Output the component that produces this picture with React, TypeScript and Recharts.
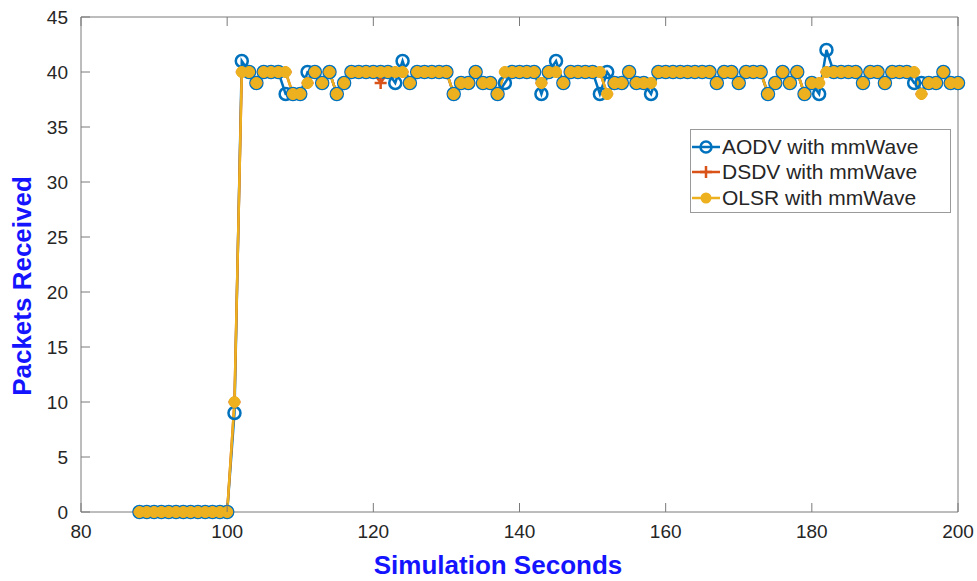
import { LineChart, Line, XAxis, YAxis } from 'recharts'

// seconds on the x axis
const seconds = [
  88, 89, 90, 91, 92, 93, 94, 95, 96, 97, 98, 99, 100, 101, 102, 103, 104, 105, 106, 107,
  108, 109, 110, 111, 112, 113, 114, 115, 116, 117, 118, 119, 120, 121, 122, 123, 124, 125, 126, 127,
  128, 129, 130, 131, 132, 133, 134, 135, 136, 137, 138, 139, 140, 141, 142, 143, 144, 145, 146, 147,
  148, 149, 150, 151, 152, 153, 154, 155, 156, 157, 158, 159, 160, 161, 162, 163, 164, 165, 166, 167,
  168, 169, 170, 171, 172, 173, 174, 175, 176, 177, 178, 179, 180, 181, 182, 183, 184, 185, 186, 187,
  188, 189, 190, 191, 192, 193, 194, 195, 196, 197, 198, 199, 200,
]

const aodv = [
  0, 0, 0, 0, 0, 0, 0, 0, 0, 0, 0, 0, 0, 9, 41, 40, 39, 40, 40, 40,
  38, 38, 38, 40, 40, 39, 40, 38, 39, 40, 40, 40, 40, 40, 40, 39, 41, 39, 40, 40,
  40, 40, 40, 38, 39, 39, 40, 39, 39, 38, 39, 40, 40, 40, 40, 38, 40, 41, 39, 40,
  40, 40, 40, 38, 40, 39, 39, 40, 39, 39, 38, 40, 40, 40, 40, 40, 40, 40, 40, 39,
  40, 40, 39, 40, 40, 40, 38, 39, 40, 39, 40, 38, 39, 38, 42, 40, 40, 40, 40, 39,
  40, 40, 39, 40, 40, 40, 39, 39, 39, 39, 40, 39, 39,
]

const dsdv = [
  0, 0, 0, 0, 0, 0, 0, 0, 0, 0, 0, 0, 0, 10, 40, 40, 39, 40, 40, 40,
  40, 38, 38, 39, 40, 39, 40, 38, 39, 40, 40, 40, 40, 39, 40, 40, 40, 39, 40, 40,
  40, 40, 40, 38, 39, 39, 40, 39, 39, 38, 40, 40, 40, 40, 40, 39, 40, 40, 39, 40,
  40, 40, 40, 40, 38, 39, 39, 40, 39, 39, 39, 40, 40, 40, 40, 40, 40, 40, 40, 39,
  40, 40, 39, 40, 40, 40, 38, 39, 40, 39, 40, 38, 39, 39, 40, 40, 40, 40, 40, 39,
  40, 40, 39, 40, 40, 40, 40, 38, 39, 39, 40, 39, 39,
]

const olsr = [
  0, 0, 0, 0, 0, 0, 0, 0, 0, 0, 0, 0, 0, 10, 40, 40, 39, 40, 40, 40,
  40, 38, 38, 39, 40, 39, 40, 38, 39, 40, 40, 40, 40, 40, 40, 40, 40, 39, 40, 40,
  40, 40, 40, 38, 39, 39, 40, 39, 39, 38, 40, 40, 40, 40, 40, 39, 40, 40, 39, 40,
  40, 40, 40, 40, 38, 39, 39, 40, 39, 39, 39, 40, 40, 40, 40, 40, 40, 40, 40, 39,
  40, 40, 39, 40, 40, 40, 38, 39, 40, 39, 40, 38, 39, 39, 40, 40, 40, 40, 40, 39,
  40, 40, 39, 40, 40, 40, 40, 38, 39, 39, 40, 39, 39,
]

const xTicks = [80, 100, 120, 140, 160, 180, 200]
const yTicks = [0, 5, 10, 15, 20, 25, 30, 35, 40, 45]

const data = seconds.map((s, i) => ({ s, aodv: aodv[i], dsdv: dsdv[i], olsr: olsr[i] }))

const BLUE = '#0072BD'
const RED = '#D95319'
const YELLOW = '#EDB120'
const AXIS = '#7a7a7a'
const TXT = '#262626'
const LABEL = '#1414ff'
const FONT = '"Liberation Sans", Arial, Helvetica, sans-serif'
const TICK = 9

const BottomTick = ({ x, y, payload }: any) => (
  <g>
    <line x1={x} x2={x} y1={y} y2={y - TICK} stroke={AXIS} />
    <text x={x} y={y + 26} textAnchor="middle" fill={TXT} fontSize={19} fontFamily={FONT}>
      {payload.value}
    </text>
  </g>
)

const TopTick = ({ x, y }: any) => <line x1={x} x2={x} y1={y} y2={y + TICK} stroke={AXIS} />

const LeftTick = ({ x, y, payload }: any) => (
  <g>
    <line x1={x} x2={x + TICK} y1={y} y2={y} stroke={AXIS} />
    <text x={x - 13} y={y + 7} textAnchor="end" fill={TXT} fontSize={19} fontFamily={FONT}>
      {payload.value}
    </text>
  </g>
)

const RightTick = ({ x, y }: any) => <line x1={x} x2={x - TICK} y1={y} y2={y} stroke={AXIS} />

const XLabel = () => (
  <text x={498} y={574} textAnchor="middle" fill={LABEL} fontSize={26} fontWeight="bold" fontFamily={FONT}>
    Simulation Seconds
  </text>
)

const YLabel = () => (
  <text
    x={0}
    y={0}
    transform="translate(31, 286) rotate(-90)"
    textAnchor="middle"
    fill={LABEL}
    fontSize={26}
    fontWeight="bold"
    fontFamily={FONT}
  >
    Packets Received
  </text>
)

const PlusDot = (props: any) => {
  const { cx, cy, key } = props
  return (
    <path
      key={key}
      d={`M${cx - 6},${cy}H${cx + 6}M${cx},${cy - 6}V${cy + 6}`}
      stroke={RED}
      strokeWidth={2.5}
      fill="none"
    />
  )
}

const legendItems = [
  { name: 'AODV with mmWave', color: BLUE, kind: 'circle' },
  { name: 'DSDV with mmWave', color: RED, kind: 'plus' },
  { name: 'OLSR with mmWave', color: YELLOW, kind: 'dot' },
]

const LegendBox = () => (
  <div
    style={{
      position: 'absolute',
      left: 690,
      top: 129,
      width: 261,
      height: 84,
      border: '1px solid #9a9a9a',
      background: '#fff',
      fontFamily: FONT,
      fontSize: 21,
      color: TXT,
      paddingTop: 4,
      boxSizing: 'border-box',
    }}
  >
    {legendItems.map((it) => (
      <div key={it.name} style={{ display: 'flex', alignItems: 'center', height: 25.5 }}>
        <svg width={30} height={20} style={{ marginLeft: 1 }}>
          <line x1={0} x2={28} y1={10} y2={10} stroke={it.color} strokeWidth={2.5} />
          {it.kind === 'circle' && <circle cx={14} cy={10} r={5.5} fill="none" stroke={it.color} strokeWidth={2.5} />}
          {it.kind === 'plus' && <path d="M8,10H20M14,4V16" stroke={it.color} strokeWidth={2.5} />}
          {it.kind === 'dot' && <circle cx={14} cy={10} r={5.5} fill={it.color} />}
        </svg>
        <span>{it.name}</span>
      </div>
    ))}
  </div>
)

export default function App() {
  return (
    <div style={{ position: 'fixed', left: 0, top: 0, width: 977, height: 581, background: '#fff' }}>
      <LineChart width={977} height={581} data={data} margin={{ top: 0, right: 0, bottom: 0, left: 0 }}>
        <XAxis
          dataKey="s"
          type="number"
          domain={[80, 200]}
          ticks={xTicks}
          height={69}
          tickSize={0}
          tickMargin={0}
          tick={<BottomTick />}
          axisLine={{ stroke: AXIS }}
          tickLine={false}
          interval={0}
          label={<XLabel />}
        />
        <XAxis
          xAxisId="top"
          orientation="top"
          type="number"
          dataKey="s"
          domain={[80, 200]}
          ticks={xTicks}
          height={17}
          tickSize={0}
          tickMargin={0}
          tick={<TopTick />}
          axisLine={{ stroke: AXIS }}
          tickLine={false}
          interval={0}
        />
        <YAxis
          type="number"
          domain={[0, 45]}
          ticks={yTicks}
          width={81}
          tickSize={0}
          tickMargin={0}
          tick={<LeftTick />}
          axisLine={{ stroke: AXIS }}
          tickLine={false}
          interval={0}
          label={<YLabel />}
        />
        <YAxis
          yAxisId="right"
          orientation="right"
          type="number"
          domain={[0, 45]}
          ticks={yTicks}
          width={19}
          tickSize={0}
          tickMargin={0}
          tick={<RightTick />}
          axisLine={{ stroke: AXIS }}
          tickLine={false}
          interval={0}
        />
        <Line
          dataKey="aodv"
          name="AODV with mmWave"
          stroke={BLUE}
          strokeWidth={2.5}
          dot={{ r: 6, fill: 'none', stroke: BLUE, strokeWidth: 2.5 }}
          activeDot={false}
          isAnimationActive={false}
        />
        <Line
          dataKey="dsdv"
          name="DSDV with mmWave"
          stroke={RED}
          strokeWidth={2.5}
          dot={<PlusDot />}
          activeDot={false}
          isAnimationActive={false}
        />
        <Line
          dataKey="olsr"
          name="OLSR with mmWave"
          stroke={YELLOW}
          strokeWidth={2.5}
          dot={{ r: 5.5, fill: YELLOW, stroke: YELLOW, strokeWidth: 1 }}
          activeDot={false}
          isAnimationActive={false}
        />
      </LineChart>
      <LegendBox />
    </div>
  )
}
